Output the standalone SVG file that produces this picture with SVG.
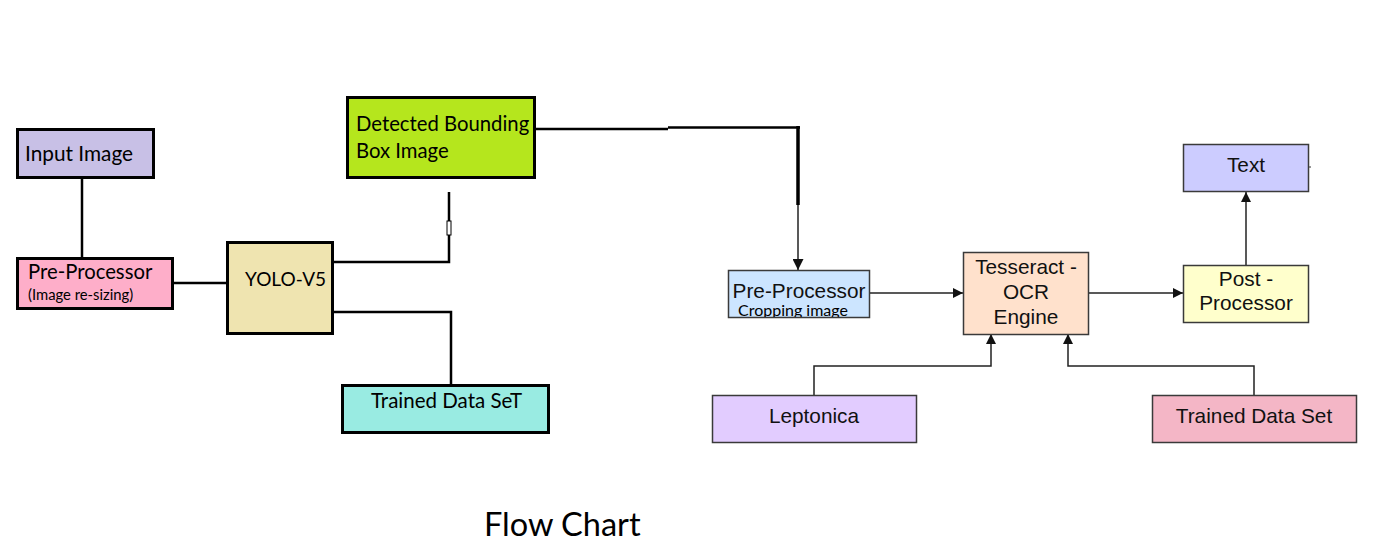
<svg xmlns="http://www.w3.org/2000/svg" width="1390" height="550" viewBox="0 0 1390 550">
<style>
.lb{stroke:#000;stroke-width:3;}
.lt{font-family:Lato,"Open Sans",sans-serif;fill:#000;}
.rb{stroke:#3a3a3a;stroke-width:1.5;}
.rt{font-family:"Liberation Sans",Arial,sans-serif;fill:#111;font-size:20.8px;text-anchor:middle;}
.cl{fill:none;stroke:#000;stroke-width:2.5;}
.cr{fill:none;stroke:#222;stroke-width:1.5;}
</style>
<defs>
<marker id="ah" viewBox="0 0 10 10" refX="10" refY="5" markerWidth="12" markerHeight="10" markerUnits="userSpaceOnUse" orient="auto">
<path d="M0,0 L10,5 L0,10 z" fill="#111"/>
</marker>
<marker id="ah2" viewBox="0 0 10 10" refX="10" refY="5" markerWidth="12" markerHeight="11" markerUnits="userSpaceOnUse" orient="auto">
<path d="M0,0 L10,5 L0,10 z" fill="#111"/>
</marker>
<clipPath id="ppclip"><rect x="728" y="270" width="142" height="47"/></clipPath>
</defs>
<rect width="1390" height="550" fill="#fff"/>
<g id="connectors">
<path class="cl" d="M82,178 V258"/>
<path class="cl" d="M173,283 H226"/>
<path class="cl" d="M333,262 H449 V192"/>
<rect x="447" y="221" width="4" height="14" fill="#fff" stroke="#000" stroke-width="1"/>
<path class="cl" d="M333,312 H451 V384"/>
<path class="cl" d="M535,129 H668"/>
<path class="cl" d="M668,127.5 H800"/>
<path d="M798,126 V205" fill="none" stroke="#000" stroke-width="3.5"/>
<path class="cr" d="M798,205 V270" marker-end="url(#ah2)"/>
<path class="cr" d="M870,293 H963" marker-end="url(#ah)"/>
<path class="cr" d="M1089,293 H1183" marker-end="url(#ah)"/>
<path class="cr" d="M1246,265 V192" marker-end="url(#ah)"/>
<path class="cr" d="M814,395 V366 H991 V334" marker-end="url(#ah)"/>
<path class="cr" d="M1254,395 V366 H1068 V334" marker-end="url(#ah)"/>
<path d="M1309,167 H1311" stroke="#333" stroke-width="1"/>
</g>
<g id="input-image">
<rect class="lb" x="17.5" y="129.5" width="136" height="48" fill="#c8c0e6"/>
<text class="lt" x="25" y="161" font-size="20.8">Input Image</text>
</g>
<g id="pre-processor-left">
<rect class="lb" x="17.5" y="258.5" width="155" height="50" fill="#feaec9"/>
<text class="lt" x="28" y="279" font-size="20.3">Pre-Processor</text>
<text class="lt" x="28" y="300" font-size="14.8">(Image re-sizing)</text>
</g>
<g id="yolo">
<rect class="lb" x="227.5" y="242.5" width="105" height="91" fill="#efe4b0"/>
<text class="lt" x="245" y="286" font-size="19">YOLO-V5</text>
</g>
<g id="detected-box">
<rect class="lb" x="347.5" y="97.5" width="187" height="80" fill="#b5e61d"/>
<text class="lt" x="356" y="131" font-size="20.3" fill="#14143c">Detected Bounding</text>
<text class="lt" x="356" y="158" font-size="20.3" fill="#14143c">Box Image</text>
</g>
<g id="trained-left">
<rect class="lb" x="342.5" y="385.5" width="206" height="47" fill="#99ebe2"/>
<text class="lt" x="371" y="408" font-size="20.5">Trained Data SeT</text>
</g>
<g id="pre-processor-right">
<rect class="rb" x="728.5" y="270.5" width="141" height="47" fill="#cce5ff"/>
<text class="rt" x="799" y="298">Pre-Processor</text>
<text class="lt" x="738" y="316" font-size="16" clip-path="url(#ppclip)">Cropping image</text>
</g>
<g id="tesseract">
<rect class="rb" x="963.5" y="252.5" width="125" height="82" fill="#ffe1cc"/>
<text class="rt" x="1026" y="274">Tesseract -</text>
<text class="rt" x="1026" y="299">OCR</text>
<text class="rt" x="1026" y="324">Engine</text>
</g>
<g id="post-processor">
<rect class="rb" x="1183.5" y="265.5" width="125" height="57" fill="#ffffcc"/>
<text class="rt" x="1246" y="286">Post -</text>
<text class="rt" x="1246" y="310">Processor</text>
</g>
<g id="text-out">
<rect class="rb" x="1183.5" y="144.5" width="125" height="47" fill="#ccccff"/>
<text class="rt" x="1246" y="172">Text</text>
</g>
<g id="leptonica">
<rect class="rb" x="712.5" y="395.5" width="204" height="47" fill="#e2ccff"/>
<text class="rt" x="814" y="423">Leptonica</text>
</g>
<g id="trained-right">
<rect class="rb" x="1152.5" y="395.5" width="204" height="47" fill="#f4b6c6"/>
<text class="rt" x="1254" y="423">Trained Data Set</text>
</g>
<text class="lt" x="484" y="536" font-size="32.5">Flow Chart</text>
</svg>
